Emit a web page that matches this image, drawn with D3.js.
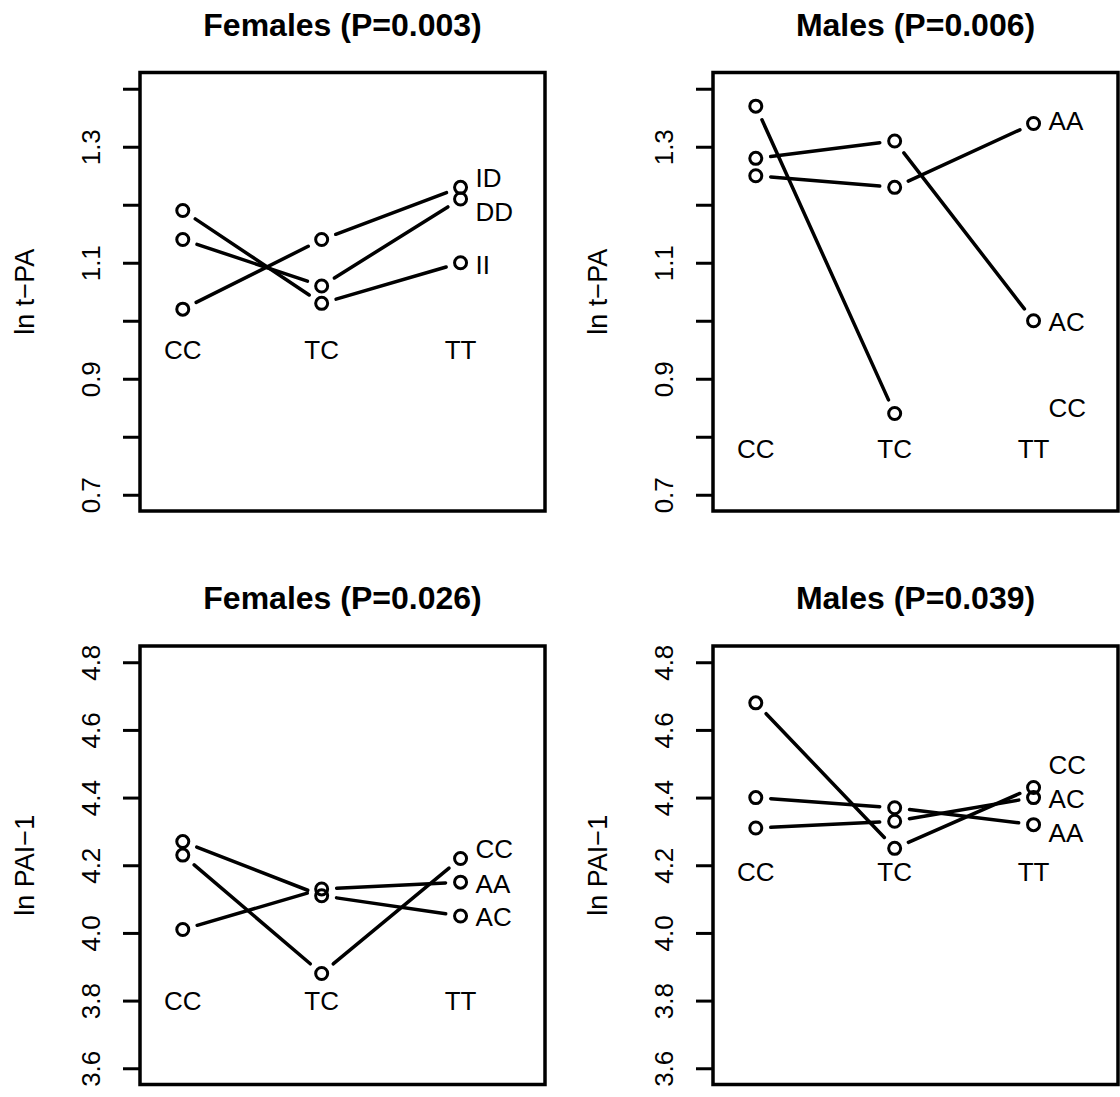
<!DOCTYPE html>
<html>
<head>
	<meta charset="UTF-8" />
	<title>ln t-PA and ln PAI-1 by genotype</title>
	<script src="https://d3js.org/d3.v7.min.js"></script>
	<style>
		body { margin: 0; background: #fff; }
		text { font-family: "Liberation Sans", Arial, Helvetica, sans-serif; fill: #000; }
	</style>
</head>
<body>
	<svg id="chart" width="1120" height="1097"></svg>

	<script type="text/javascript">
	// genotypes along the x axis
	const genotypes = ["CC", "TC", "TT"]

	// y axis ticks
	const tpaTicks = [0.7, 0.8, 0.9, 1.0, 1.1, 1.2, 1.3, 1.4]
	const tpaTickLabels = ["0.7", "", "0.9", "", "1.1", "", "1.3", ""]
	const paiTicks = [3.6, 3.8, 4.0, 4.2, 4.4, 4.6, 4.8]
	const paiTickLabels = ["3.6", "3.8", "4.0", "4.2", "4.4", "4.6", "4.8"]

	// panel 1: t-PA, females
	const femTpaSeries = ["ID", "DD", "II"]
	const femTpaValues = [[1.02, 1.14, 1.23], [1.14, 1.06, 1.21], [1.19, 1.03, 1.10]]
	const femTpaLabelY = [1.247, 1.188, 1.096]
	const femTpaGroupY = 0.95

	// panel 2: t-PA, males (CC has no TT value)
	const maleTpaSeries = ["AA", "AC", "CC"]
	const maleTpaValues = [[1.25, 1.23, 1.34], [1.28, 1.31, 1.00], [1.37, 0.84, null]]
	const maleTpaLabelY = [1.345, 0.998, 0.85]
	const maleTpaGroupY = 0.78

	// panel 3: PAI-1, females
	const femPaiSeries = ["CC", "AA", "AC"]
	const femPaiValues = [[4.23, 3.88, 4.22], [4.01, 4.13, 4.15], [4.27, 4.11, 4.05]]
	const femPaiLabelY = [4.249, 4.145, 4.047]
	const femPaiGroupY = 3.80

	// panel 4: PAI-1, males
	const malePaiSeries = ["CC", "AC", "AA"]
	const malePaiValues = [[4.68, 4.25, 4.43], [4.31, 4.33, 4.40], [4.40, 4.37, 4.32]]
	const malePaiLabelY = [4.497, 4.398, 4.297]
	const malePaiGroupY = 4.18

	const panels = [
		{title: "Females (P=0.003)", ylab: "ln t\u2212PA", ylim: [0.672, 1.428], ticks: tpaTicks, tickLabels: tpaTickLabels,
		 series: femTpaSeries, values: femTpaValues, labelY: femTpaLabelY, groupY: femTpaGroupY, x0: 140, y0: 72.5},
		{title: "Males (P=0.006)", ylab: "ln t\u2212PA", ylim: [0.672, 1.428], ticks: tpaTicks, tickLabels: tpaTickLabels,
		 series: maleTpaSeries, values: maleTpaValues, labelY: maleTpaLabelY, groupY: maleTpaGroupY, x0: 713, y0: 72.5},
		{title: "Females (P=0.026)", ylab: "ln PAI\u22121", ylim: [3.552, 4.848], ticks: paiTicks, tickLabels: paiTickLabels,
		 series: femPaiSeries, values: femPaiValues, labelY: femPaiLabelY, groupY: femPaiGroupY, x0: 140, y0: 646},
		{title: "Males (P=0.039)", ylab: "ln PAI\u22121", ylim: [3.552, 4.848], ticks: paiTicks, tickLabels: paiTickLabels,
		 series: malePaiSeries, values: malePaiValues, labelY: malePaiLabelY, groupY: malePaiGroupY, x0: 713, y0: 646}
	]

	const boxW = 405, boxH = 438.5
	const gap = 15   // space left around each point (type "b")
	const svg = d3.select("#chart")

	panels.forEach(p => drawPanel(p))

	function drawPanel(p){
		var x = d3.scaleLinear().domain([0.692, 3.608]).range([p.x0, p.x0 + boxW])
		var y = d3.scaleLinear().domain(p.ylim).range([p.y0 + boxH, p.y0])
		var g = svg.append("g")

		// title
		g.append("text")
			.attr("x", p.x0 + boxW / 2)
			.attr("y", p.y0 - 48.5)
			.attr("dy", "0.36em")
			.attr("text-anchor", "middle")
			.style("font-size", "32px")
			.style("font-weight", "bold")
			.text(p.title)

		// y axis, labels parallel to the axis
		var axis = g.append("g")
			.attr("transform", `translate(${p.x0},0)`)
			.call(d3.axisLeft(y).tickValues(p.ticks).tickSize(17)
				.tickFormat((d, i) => p.tickLabels[i]))
		axis.select(".domain").remove()
		axis.selectAll(".tick line").attr("stroke", "#000").attr("stroke-width", 3)
		axis.selectAll(".tick text")
			.attr("x", null).attr("dy", "0.36em")
			.attr("transform", "translate(-49,0) rotate(-90)")
			.attr("text-anchor", "middle")
			.attr("fill", "#000")
			.style("font-size", "26px")
			.style("font-family", "'Liberation Sans', Arial, sans-serif")

		g.append("text")
			.attr("transform", `translate(${p.x0 - 116},${p.y0 + boxH / 2}) rotate(-90)`)
			.attr("dy", "0.36em")
			.attr("text-anchor", "middle")
			.style("font-size", "27px")
			.text(p.ylab)

		// genotype labels
		g.selectAll(".grp")
			.data(genotypes)
			.enter()
			.append("text")
			.attr("x", (d, i) => x(i + 1))
			.attr("y", y(p.groupY))
			.attr("dy", "0.36em")
			.attr("text-anchor", "middle")
			.style("font-size", "26px")
			.text(d => d)

		// line segments with a gap at each point
		var segs = []
		p.values.forEach(v => {
			for (var i = 0; i < v.length - 1; i++){
				if (v[i] == null || v[i + 1] == null) continue
				var x1 = x(i + 1), y1 = y(v[i]), x2 = x(i + 2), y2 = y(v[i + 1])
				var dx = x2 - x1, dy = y2 - y1, L = Math.hypot(dx, dy)
				if (L <= 2 * gap) continue
				segs.push([x1 + dx / L * gap, y1 + dy / L * gap, x2 - dx / L * gap, y2 - dy / L * gap])
			}
		})
		g.selectAll(".seg")
			.data(segs)
			.enter()
			.append("line")
			.attr("x1", d => d[0]).attr("y1", d => d[1])
			.attr("x2", d => d[2]).attr("y2", d => d[3])
			.attr("stroke", "#000")
			.attr("stroke-width", 3.5)
			.attr("stroke-linecap", "round")

		// points
		var pts = []
		p.values.forEach(v => v.forEach((d, i) => { if (d != null) pts.push([i + 1, d]) }))
		g.selectAll(".pt")
			.data(pts)
			.enter()
			.append("circle")
			.attr("cx", d => x(d[0]))
			.attr("cy", d => y(d[1]))
			.attr("r", 6)
			.attr("fill", "none")
			.attr("stroke", "#000")
			.attr("stroke-width", 3)

		// series labels beside TT
		g.selectAll(".lab")
			.data(p.series)
			.enter()
			.append("text")
			.attr("x", x(3) + 15)
			.attr("y", (d, i) => y(p.labelY[i]))
			.attr("dy", "0.36em")
			.style("font-size", "26px")
			.text(d => d)

		// plot frame
		g.append("rect")
			.attr("x", p.x0).attr("y", p.y0)
			.attr("width", boxW).attr("height", boxH)
			.attr("fill", "none")
			.attr("stroke", "#000")
			.attr("stroke-width", 3.5)
	}
	</script>
</body>
</html>
